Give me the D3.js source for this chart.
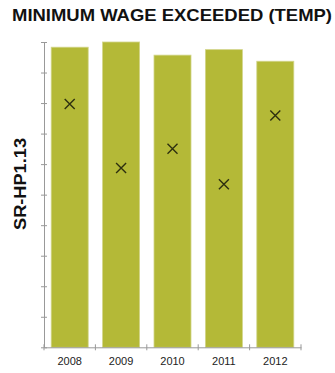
<!DOCTYPE html>
<html>
<head>
<meta charset="utf-8">
<script src="https://cdn.jsdelivr.net/npm/d3@7"></script>
<style>
  body { margin: 0; background: #fff; }
  svg { display: block; font-family: "Liberation Sans", Arial, sans-serif; }
</style>
</head>
<body>
<svg id="chart" width="335" height="373"></svg>
<script>
// chart values
const years = ['2008', '2009', '2010', '2011', '2012']
const barValues = [9.83, 10.0, 9.57, 9.75, 9.37]
const markValues = [7.97, 5.87, 6.5, 5.34, 7.59]
const yTicks = d3.range(0, 11)

let svg = d3.select('#chart')
let padLeft = 44, padRight = 301, padTop = 42, padBottom = 347.3

let x = d3.scaleBand().domain(years).range([padLeft, padRight]).paddingInner(0.28).paddingOuter(0.14)
let y = d3.scaleLinear().domain([0, 10]).range([padBottom, padTop])

// title
svg.append('text')
    .attr('x', 12)
    .attr('y', 20.5)
    .attr('font-size', 16.5)
    .attr('font-weight', 'bold')
    .attr('fill', '#111')
    .attr('textLength', 320)
    .attr('lengthAdjust', 'spacingAndGlyphs')
    .text('MINIMUM WAGE EXCEEDED (TEMP)')

// y label
svg.append('text')
    .attr('transform', 'translate(25.5,184) rotate(-90)')
    .attr('text-anchor', 'middle')
    .attr('font-size', 16.5)
    .attr('font-weight', 'bold')
    .attr('fill', '#111')
    .attr('textLength', 92)
    .attr('lengthAdjust', 'spacingAndGlyphs')
    .text('SR-HP1.13')

// bars
svg.selectAll('.bar')
    .data(years)
    .enter().append('rect')
    .attr('class', 'bar')
    .attr('x', function (d) { return x(d) })
    .attr('y', function (d, i) { return y(barValues[i]) })
    .attr('width', x.bandwidth())
    .attr('height', function (d, i) { return padBottom - y(barValues[i]) })
    .attr('fill', '#b4b937')
    .attr('stroke', '#d2d58a')
    .attr('stroke-width', 0.8)

// y axis
let yAxis = svg.append('g')
    .attr('transform', 'translate(' + padLeft + ',0)')
    .call(d3.axisLeft(y).tickValues(yTicks).tickSize(3).tickSizeOuter(0).tickFormat(''))
yAxis.selectAll('line').attr('x2', -3).attr('x1', 3)
yAxis.selectAll('.domain, line').attr('stroke', '#999')

// x axis
let xAxis = svg.append('g')
    .attr('transform', 'translate(0,' + padBottom + ')')
    .call(d3.axisBottom(x).tickSize(0).tickSizeOuter(0))
xAxis.select('.domain').attr('stroke', '#999')
xAxis.selectAll('text')
    .attr('dy', 0)
    .attr('y', 18)
    .attr('font-size', 11)
    .attr('font-family', '"Liberation Sans", Arial, sans-serif')
    .attr('fill', '#222')

// band boundary ticks on the x axis
let step = x.step()
let edges = years.map(function (d) { return x(d) - (step - x.bandwidth()) / 2 })
edges.push(padRight)
xAxis.selectAll('.edge')
    .data(edges)
    .enter().append('line')
    .attr('class', 'edge')
    .attr('x1', function (d) { return d })
    .attr('x2', function (d) { return d })
    .attr('y1', -3)
    .attr('y2', 3)
    .attr('stroke', '#999')

// cross markers
let s = 5
let marks = svg.selectAll('.mark')
    .data(years)
    .enter().append('g')
    .attr('class', 'mark')
    .attr('transform', function (d, i) {
        return 'translate(' + (x(d) + x.bandwidth() / 2) + ',' + y(markValues[i]) + ')'
    })
marks.append('path')
    .attr('d', 'M' + (-s) + ',' + (-s) + 'L' + s + ',' + s + 'M' + (-s) + ',' + s + 'L' + s + ',' + (-s))
    .attr('stroke', '#2e3010')
    .attr('stroke-width', 1.4)
    .attr('fill', 'none')
</script>
</body>
</html>
